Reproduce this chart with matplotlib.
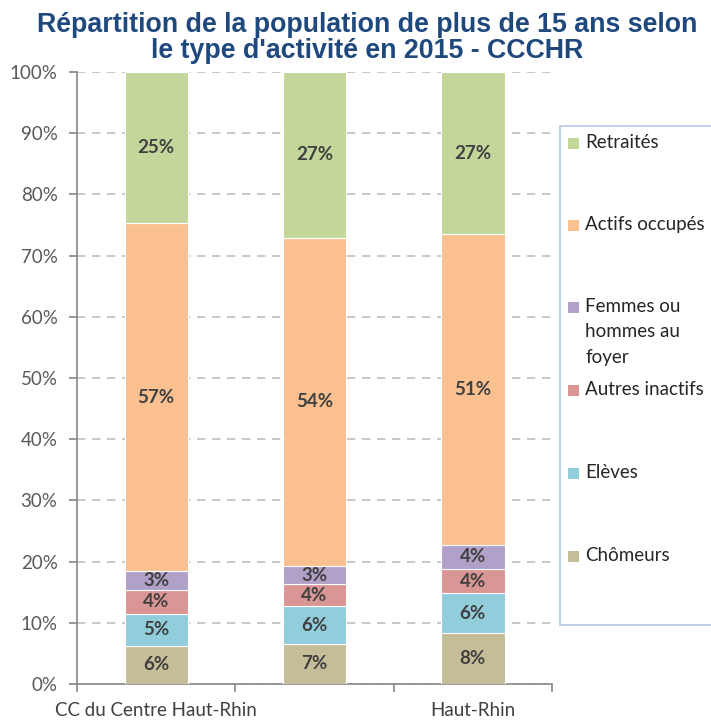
import matplotlib.pyplot as plt
from matplotlib.patches import Rectangle
import numpy as np

plt.rcParams['font.family'] = ['Lato', 'DejaVu Sans']

categories = ['CC du Centre Haut-Rhin', '', 'Haut-Rhin']
series = ['Chômeurs', 'Elèves', 'Autres inactifs', 'Femmes ou\nhommes au\nfoyer',
          'Actifs occupés', 'Retraités']
chomeurs = [6.26, 6.59, 8.38]
eleves = [5.18, 6.10, 6.44]
autres_inactifs = [3.97, 3.60, 4.00]
au_foyer = [3.06, 3.04, 3.96]
actifs_occupes = [56.80, 53.60, 50.70]
retraites = [24.73, 27.07, 26.52]
colors = ['#c4bd97', '#92cddc', '#da9694', '#b1a0c7', '#fac090', '#c4d79b']

values = [chomeurs, eleves, autres_inactifs, au_foyer, actifs_occupes, retraites]

fig = plt.figure(figsize=(7.11, 7.2), dpi=100)
ax = fig.add_axes([77 / 711, 1 - 684 / 720, 475 / 711, 612 / 720])

x = np.arange(len(categories))
bottom = np.zeros(len(categories))
for vals, col in zip(values, colors):
    vals = np.array(vals)
    ax.bar(x, vals, 0.4, bottom=bottom, color=col, edgecolor='white', linewidth=0.8, zorder=3)
    for xi, b, v in zip(x, bottom, vals):
        ax.text(xi, b + v / 2, f'{round(v):d}%', ha='center', va='center',
                fontsize=13.5, fontweight='bold', color='#404040', zorder=4)
    bottom += vals

ax.set_xlim(-0.5, 2.5)
ax.set_ylim(0, 100)
ax.set_yticks(np.arange(0, 101, 10))
ax.set_yticklabels([f'{v}%' for v in range(0, 101, 10)], fontsize=13.5, color='#595959')
ax.set_xticks(x)
ax.set_xticklabels(categories, fontsize=13.5, color='#404040')
ax.set_xticks([-0.5, 0.5, 1.5, 2.5], minor=True)
ax.tick_params(axis='x', which='major', length=0, pad=13)
ax.tick_params(axis='x', which='minor', length=6, color='#868686', width=1.2)
ax.tick_params(axis='y', length=6, color='#868686', width=1.2, pad=8)
ax.yaxis.grid(True, linestyle=(0, (5, 4)), color='#bfbfbf', linewidth=1.2, zorder=0)
for s in ['top', 'right']:
    ax.spines[s].set_visible(False)
for s in ['left', 'bottom']:
    ax.spines[s].set_color('#868686')
    ax.spines[s].set_linewidth(1.2)

fig.text(367 / 711, 1 - 38 / 720,
         "Répartition de la population de plus de 15 ans selon\nle type d'activité en 2015 - CCCHR",
         ha='center', va='center', fontsize=19.3, fontweight='bold', color='#1f497d',
         family='Liberation Sans', linespacing=1.05)

# légende dessinée à la main
fig.patches.append(Rectangle((560 / 711, 1 - 625 / 720), 160 / 711, 499 / 720,
                             transform=fig.transFigure, facecolor='white',
                             edgecolor='#b4c7e7', linewidth=1.2))
legend_y = [143, 225, 307, 390, 473, 556]
for label, col, yy in zip(series[::-1], colors[::-1], legend_y):
    fig.patches.append(Rectangle((568 / 711, 1 - (yy + 6) / 720), 11 / 711, 11 / 720,
                                 transform=fig.transFigure, facecolor=col, edgecolor='none'))
    fig.text(585 / 711, 1 - (yy - 9) / 720, label, ha='left', va='top',
             fontsize=13.5, color='#262626', linespacing=1.6)

fig.savefig('out.png', dpi=100)
